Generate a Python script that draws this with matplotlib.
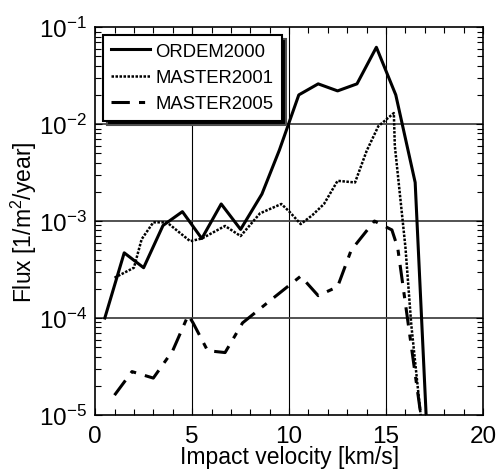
import numpy as np
import matplotlib
matplotlib.use("Agg")
import matplotlib.pyplot as plt
from matplotlib.ticker import LogLocator, FixedLocator

plt.rcParams['font.family'] = ['Liberation Sans', 'DejaVu Sans']
plt.rcParams['mathtext.fontset'] = 'custom'
plt.rcParams['mathtext.rm'] = 'Liberation Sans'
plt.rcParams['mathtext.default'] = 'regular'

# ORDEM2000 (solid)
ordem_v = [0.5, 1.5, 2.5, 3.5, 4.5, 5.5, 6.5, 7.5, 8.6, 9.5, 10.5, 11.5, 12.5, 13.5, 14.5, 15.5, 16.5, 17.3]
ordem_f = [1.0e-4, 4.7e-4, 3.3e-4, 9.0e-4, 1.25e-3, 6.6e-4, 1.5e-3, 8.2e-4, 1.9e-3, 5.4e-3,
           2.0e-2, 2.6e-2, 2.2e-2, 2.6e-2, 6.2e-2, 2.0e-2, 2.5e-3, 1.0e-6]

# MASTER2001 (dotted)
m01_v = [1.0, 2.0, 2.4, 3.0, 3.7, 4.9, 5.5, 6.7, 7.5, 8.5, 9.6, 10.0, 10.6, 11.2, 11.8, 12.5,
         13.4, 14.0, 14.6, 15.4, 15.45, 15.7, 16.0, 16.3, 17.3]
m01_f = [2.6e-4, 3.3e-4, 6.5e-4, 9.7e-4, 9.7e-4, 6.2e-4, 6.6e-4, 8.9e-4, 7.0e-4, 1.2e-3, 1.5e-3,
         1.26e-3, 9.3e-4, 1.15e-3, 1.5e-3, 2.6e-3, 2.5e-3, 5.3e-3, 9.5e-3, 1.3e-2, 6.0e-3,
         2.0e-3, 5.3e-4, 8.5e-5, 1.0e-6]

# MASTER2005 (dash-dot)
m05_v = [1.0, 1.9, 3.0, 4.0, 4.8, 5.05, 5.8, 6.7, 7.6, 9.0, 10.6, 11.5, 12.5, 13.2, 14.4, 15.3,
         15.6, 16.1, 17.0]
m05_f = [1.6e-5, 2.8e-5, 2.4e-5, 4.6e-5, 1.07e-4, 8.9e-5, 4.6e-5, 4.4e-5, 8.9e-5, 1.5e-4, 2.7e-4,
         1.7e-4, 2.1e-4, 5.0e-4, 1.0e-3, 8.1e-4, 5.3e-4, 1.0e-4, 5.0e-6]

fig = plt.figure(figsize=(4.98, 4.77), dpi=100)
ax = fig.add_axes([0.191, 0.128, 0.779, 0.813])

ax.plot(ordem_v, ordem_f, color='black', lw=2.2, label='ORDEM2000')
ax.plot(m01_v, m01_f, color='black', lw=1.8, linestyle=(0, (1.0, 0.6)), label='MASTER2001')
ax.plot(m05_v, m05_f, color='black', lw=2.2, linestyle=(0, (6, 3, 2, 3)), label='MASTER2005')

ax.set_yscale('log')
ax.set_xlim(0, 20)
ax.set_ylim(1e-5, 1e-1)

ax.xaxis.set_major_locator(FixedLocator([0, 5, 10, 15, 20]))
ax.xaxis.set_minor_locator(FixedLocator(np.arange(0, 21, 1)))
ax.yaxis.set_major_locator(LogLocator(base=10, numticks=10))
ax.yaxis.set_minor_locator(LogLocator(base=10, subs=np.arange(2, 10), numticks=10))

for v in [5, 10, 15]:
    ax.axvline(v, color='black', lw=0.8, zorder=0)
for e in [1e-4, 1e-3, 1e-2]:
    ax.axhline(e, color='#444444', lw=1.3, zorder=0)

ax.tick_params(which='both', direction='in', top=True, right=True, labelsize=17.5, pad=6)
ax.tick_params(axis='x', which='major', pad=7)
ax.tick_params(which='major', length=5, width=0.8)
ax.tick_params(which='minor', length=4, width=0.8)
for s in ax.spines.values():
    s.set_linewidth(1.2)

ax.set_xlabel('Impact velocity [km/s]', fontsize=16.5, labelpad=-1)
ax.set_ylabel('Flux [1/m$^2$/year]', fontsize=16.5, labelpad=0)

leg = ax.legend(loc='upper left', fontsize=13.3, frameon=True, fancybox=False,
                edgecolor='black', framealpha=1, borderaxespad=0.4, handlelength=2.1,
                handletextpad=0.3, borderpad=0.45, labelspacing=0.5,
                shadow={'ox': 3, 'oy': -3, 'facecolor': 'black', 'alpha': 1})
leg.get_frame().set_linewidth(1.5)

fig.savefig('out.png', dpi=100)
